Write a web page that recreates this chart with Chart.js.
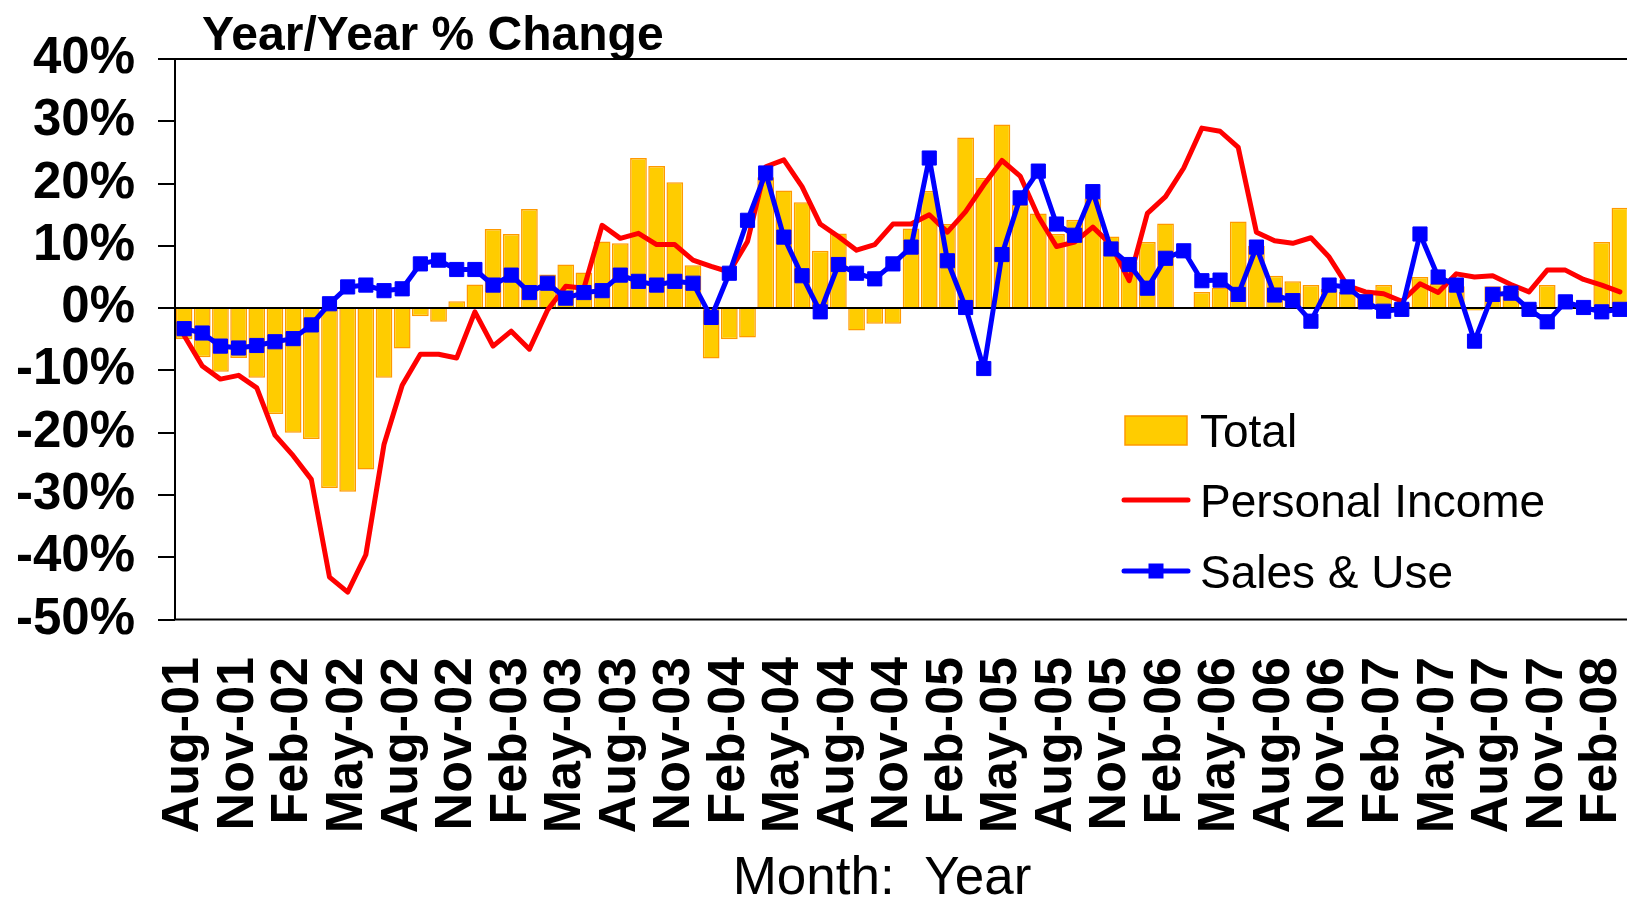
<!DOCTYPE html>
<html>
<head>
<meta charset="utf-8">
<title>Year/Year % Change</title>
<script src="https://cdn.jsdelivr.net/npm/chart.js@4.4.1/dist/chart.umd.min.js"></script>
<style>
  html, body { margin: 0; padding: 0; background: #fff; overflow: hidden; }
  #wrap { width: 1640px; height: 902px; }
</style>
</head>
<body>
<div id="wrap"><canvas id="yoy-chart" width="1640" height="902"></canvas></div>
<script>
// Monthly categories, Aug-01 .. Mar-08 (the last one is cut off at the right edge)
const months = [
  'Aug-01', 'Sep-01', 'Oct-01', 'Nov-01', 'Dec-01',
  'Jan-02', 'Feb-02', 'Mar-02', 'Apr-02', 'May-02', 'Jun-02', 'Jul-02', 'Aug-02', 'Sep-02', 'Oct-02', 'Nov-02', 'Dec-02',
  'Jan-03', 'Feb-03', 'Mar-03', 'Apr-03', 'May-03', 'Jun-03', 'Jul-03', 'Aug-03', 'Sep-03', 'Oct-03', 'Nov-03', 'Dec-03',
  'Jan-04', 'Feb-04', 'Mar-04', 'Apr-04', 'May-04', 'Jun-04', 'Jul-04', 'Aug-04', 'Sep-04', 'Oct-04', 'Nov-04', 'Dec-04',
  'Jan-05', 'Feb-05', 'Mar-05', 'Apr-05', 'May-05', 'Jun-05', 'Jul-05', 'Aug-05', 'Sep-05', 'Oct-05', 'Nov-05', 'Dec-05',
  'Jan-06', 'Feb-06', 'Mar-06', 'Apr-06', 'May-06', 'Jun-06', 'Jul-06', 'Aug-06', 'Sep-06', 'Oct-06', 'Nov-06', 'Dec-06',
  'Jan-07', 'Feb-07', 'Mar-07', 'Apr-07', 'May-07', 'Jun-07', 'Jul-07', 'Aug-07', 'Sep-07', 'Oct-07', 'Nov-07', 'Dec-07',
  'Jan-08', 'Feb-08', 'Mar-08'
];

// Year/year % change
const totalPct = [
  -5.0, -7.9, -10.2, -8.0, -11.2, -17.0, -20.0, -21.0, -28.9, -29.5,
  -25.9, -11.2, -6.5, -1.3, -2.2, 1.1, 3.8, 12.7, 11.9, 15.9,
  5.4, 7.0, 5.7, 10.7, 10.4, 24.1, 22.8, 20.2, 6.9, -8.1,
  -5.0, -4.7, 21.0, 18.9, 17.0, 9.2, 12.0, -3.6, -2.5, -2.5,
  12.8, 18.8, 13.5, 27.4, 20.9, 29.5, 16.6, 15.2, 11.9, 14.2,
  17.6, 11.5, 7.5, 10.6, 13.6, null, 2.6, 3.3, 13.9, 10.0,
  5.2, 4.3, 3.7, 3.1, 2.6, 2.3, 3.7, 0.8, 5.0, 3.9,
  3.5, -0.4, 3.5, 2.8, 0.5, 3.7, null, null, 10.6, 16.1
];

const personalIncomePct = [
  -4.4, -9.3, -11.4, -10.8, -12.8, -20.4, -23.7, -27.5, -43.2, -45.6,
  -39.6, -21.9, -12.4, -7.4, -7.4, -8.0, -0.6, -6.1, -3.7, -6.6,
  -0.3, 3.5, 3.2, 13.3, 11.2, 12.0, 10.2, 10.2, 7.7, 6.7,
  5.8, 10.7, 22.7, 23.8, 19.5, 13.5, 11.5, 9.3, 10.2, 13.5,
  13.5, 15.0, 12.2, 15.5, 19.8, 23.7, 21.2, 14.7, 9.9, 10.6,
  13.0, 10.2, 4.4, 15.2, 17.9, 22.5, 28.9, 28.4, 25.8, 12.2,
  10.8, 10.4, 11.3, 8.2, 3.6, 2.6, 2.3, 1.1, 3.9, 2.5,
  5.5, 5.0, 5.2, 3.8, 2.6, 6.1, 6.1, 4.6, 3.7, 2.6
];

const salesUsePct = [
  -3.3, -4.0, -6.1, -6.4, -6.0, -5.4, -4.9, -2.7, 0.7, 3.4,
  3.7, 2.8, 3.1, 7.1, 7.7, 6.2, 6.2, 3.7, 5.3, 2.5,
  4.0, 1.6, 2.5, 2.8, 5.3, 4.3, 3.7, 4.3, 4.0, -1.5,
  5.6, 14.1, 21.7, 11.4, 5.2, -0.6, 7.0, 5.6, 4.7, 7.1,
  9.8, 24.1, 7.6, 0.1, -9.7, 8.6, 17.7, 22.0, 13.5, 11.7,
  18.7, 9.5, 7.0, 3.2, 8.0, 9.2, 4.4, 4.5, 2.2, 9.8,
  2.1, 1.2, -2.1, 3.7, 3.4, 1.0, -0.5, -0.2, 11.9, 5.0,
  3.7, -5.3, 2.2, 2.4, -0.2, -2.2, 1.0, 0.1, -0.6, -0.2
];

const yMin = -50;
const yMax = 40;
const yStep = 10;

const FONT = "'Liberation Sans', Arial, sans-serif";

// box around the plot, chart title, axis title and the legend inside the plot
const decorPlugin = {
  id: 'decor',
  afterDraw(chart) {
    const { ctx, chartArea } = chart;
    ctx.save();

    ctx.strokeStyle = '#000';
    ctx.lineWidth = 2;
    ctx.strokeRect(chartArea.left, chartArea.top, chartArea.right - chartArea.left, chartArea.bottom - chartArea.top);

    ctx.fillStyle = '#000';
    ctx.font = 'bold 48px ' + FONT;
    ctx.textBaseline = 'alphabetic';
    ctx.textAlign = 'left';
    ctx.fillText('Year/Year % Change', 202, 50);

    ctx.font = '53px ' + FONT;
    ctx.textAlign = 'center';
    ctx.fillText('Month:  Year', 882, 894);

    // legend
    const [barDs, incomeDs, salesDs] = chart.data.datasets;
    const keyX = 1124, keyW = 64, textX = 1200;
    ctx.font = '46px ' + FONT;
    ctx.textAlign = 'left';
    ctx.textBaseline = 'middle';

    ctx.fillStyle = barDs.backgroundColor;
    ctx.fillRect(keyX + 1, 416, keyW - 2, 29);
    ctx.strokeStyle = barDs.borderColor;
    ctx.lineWidth = 1.5;
    ctx.strokeRect(keyX + 1, 416, keyW - 2, 29);
    ctx.fillStyle = '#000';
    ctx.fillText(barDs.label, textX, 434);

    ctx.lineCap = 'round';
    ctx.strokeStyle = incomeDs.borderColor;
    ctx.lineWidth = incomeDs.borderWidth;
    ctx.beginPath();
    ctx.moveTo(keyX, 500);
    ctx.lineTo(keyX + keyW, 500);
    ctx.stroke();
    ctx.fillText(incomeDs.label, textX, 504);

    ctx.strokeStyle = salesDs.borderColor;
    ctx.lineWidth = salesDs.borderWidth;
    ctx.beginPath();
    ctx.moveTo(keyX, 571);
    ctx.lineTo(keyX + keyW, 571);
    ctx.stroke();
    ctx.fillStyle = salesDs.pointBackgroundColor;
    ctx.fillRect(keyX + keyW / 2 - 7.5, 563.5, 15, 15);
    ctx.fillStyle = '#000';
    ctx.fillText(salesDs.label, textX, 575);

    ctx.restore();
  }
};

new Chart(document.getElementById('yoy-chart'), {
  data: {
    labels: months,
    datasets: [
      {
        type: 'bar',
        label: 'Total',
        data: totalPct,
        backgroundColor: '#FFCC00',
        borderColor: '#FF9900',
        borderWidth: 1.5,
        barPercentage: 0.92,
        categoryPercentage: 1.0,
        order: 2
      },
      {
        type: 'line',
        label: 'Personal Income',
        data: personalIncomePct,
        borderColor: '#FF0000',
        borderWidth: 5,
        pointRadius: 0,
        tension: 0,
        borderJoinStyle: 'round',
        borderCapStyle: 'round',
        order: 1
      },
      {
        type: 'line',
        label: 'Sales & Use',
        data: salesUsePct,
        borderColor: '#0000FF',
        borderWidth: 5,
        pointStyle: 'rect',
        pointRadius: 10,
        pointBorderWidth: 1,
        pointBackgroundColor: '#0000FF',
        pointBorderColor: '#0000FF',
        tension: 0,
        borderJoinStyle: 'round',
        order: 0
      }
    ]
  },
  options: {
    responsive: false,
    animation: false,
    devicePixelRatio: 1,
    layout: { padding: { left: 0, right: 9.5, top: 59, bottom: 0 } },
    plugins: {
      legend: { display: false },
      title: { display: false },
      tooltip: { enabled: false }
    },
    scales: {
      x: {
        type: 'category',
        offset: true,
        grid: { display: false, drawTicks: false },
        border: { display: false },
        ticks: {
          autoSkip: false,
          minRotation: 90,
          maxRotation: 90,
          padding: 37.5,
          color: '#000',
          font: { family: FONT, size: 52, weight: 'bold', lineHeight: 1.0 },
          callback: function (value, index) {
            return index % 3 === 0 ? this.getLabelForValue(value) : '';
          }
        },
        afterFit(scale) {
          scale.height = 282.5;
          scale.paddingLeft = 0;
          scale.paddingRight = 0;
        }
      },
      y: {
        min: yMin,
        max: yMax,
        grid: {
          drawOnChartArea: true,
          drawTicks: true,
          tickLength: 17,
          lineWidth: 2,
          tickWidth: 2,
          tickColor: '#000',
          color: (c) => (c.tick && c.tick.value === 0 ? '#000' : 'rgba(0,0,0,0)')
        },
        border: { display: false },
        ticks: {
          stepSize: yStep,
          autoSkip: false,
          padding: 23,
          color: '#000',
          font: { family: FONT, size: 51, weight: 'bold', lineHeight: 1.0 },
          callback: (v) => v + '%'
        },
        afterFit(scale) {
          scale.width = 175;
          scale.paddingTop = 0;
          scale.paddingBottom = 0;
        }
      }
    }
  },
  plugins: [decorPlugin]
});
</script>
</body>
</html>
